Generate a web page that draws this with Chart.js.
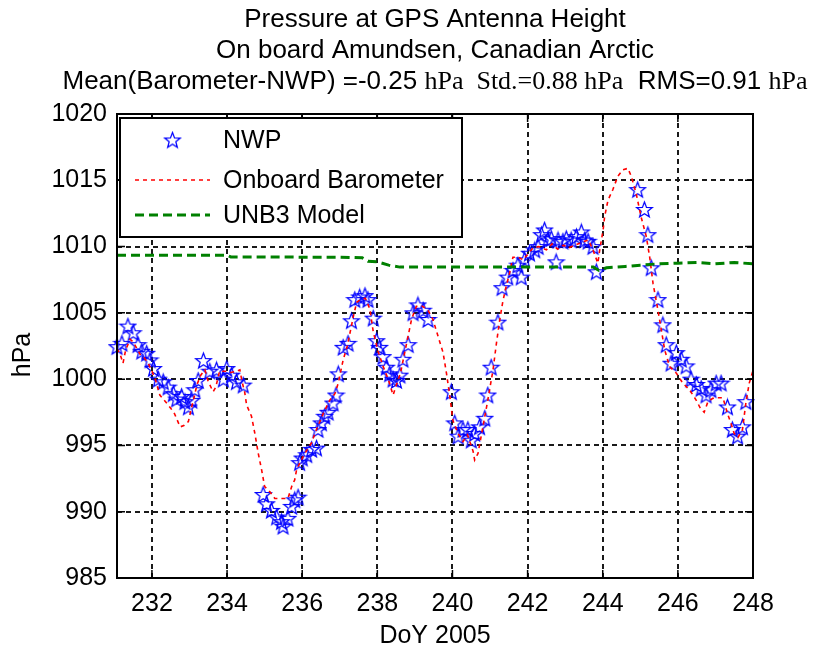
<!DOCTYPE html>
<html>
<head>
<meta charset="utf-8">
<script src="https://cdn.jsdelivr.net/npm/chart.js@4/dist/chart.umd.min.js"></script>
<style>
html,body{margin:0;padding:0;background:#fff;}
#c{display:block;}
</style>
</head>
<body>
<canvas id="c" width="830" height="652"></canvas>
<script>
// ---- Data ----
const titleLines = ["Pressure at GPS Antenna Height", "On board Amundsen, Canadian Arctic"];
const xLabel = "DoY 2005";
const yLabel = "hPa";
const xTicks = [232, 234, 236, 238, 240, 242, 244, 246, 248];
const yTicks = [985, 990, 995, 1000, 1005, 1010, 1015, 1020];
const xMin = 231.07, xMax = 248, yMin = 985, yMax = 1020;

const nwpDay = [231.07,231.2,231.36,231.5,231.63,231.73,231.86,231.95,232.04,232.17,232.3,232.43,232.57,232.66,232.79,232.88,232.97,233.06,233.14,233.23,233.37,233.54,233.72,233.9,233.99,234.12,234.25,234.43,
234.96,235.05,235.18,235.32,235.45,235.49,235.62,235.72,235.8,235.89,235.93,236.0,236.12,236.25,236.38,236.42,236.51,236.6,236.69,236.82,236.9,236.96,237.09,237.22,237.31,237.4,237.53,237.67,237.75,237.89,237.98,238.06,238.15,238.24,238.33,238.42,238.51,238.6,238.68,238.82,238.95,239.08,239.22,239.35,
239.97,240.06,240.15,240.28,240.41,240.5,240.59,240.72,240.86,240.94,241.03,241.21,241.32,241.47,241.61,241.74,241.83,241.92,242.05,242.19,242.28,242.37,242.45,242.54,242.63,242.76,242.81,242.94,243.03,243.16,243.3,243.43,243.52,243.61,243.74,243.83,
244.93,245.11,245.2,245.29,245.47,245.6,245.69,245.82,245.96,246.09,246.22,246.35,246.49,246.62,246.75,246.88,247.02,247.15,247.32,247.45,247.59,247.72,247.81];
const nwpHpa = [1002.45,1002.7,1004.0,1003.5,1002.6,1002.1,1001.95,1001.45,1000.8,1000.0,999.8,999.4,998.9,998.5,998.7,998.3,997.9,998.4,999.2,999.9,1001.4,1000.6,1000.7,1000.0,1000.8,1000.3,999.8,999.55,
991.3,990.6,990.1,989.6,989.25,988.9,989.5,990.4,990.9,991.1,993.7,994.05,994.3,994.7,994.8,996.2,996.7,997.2,997.5,998.2,998.8,1000.4,1002.4,1002.7,1004.4,1006.0,1006.2,1006.3,1006.0,1004.6,1002.9,1002.4,1001.7,1000.9,1000.4,1000.0,999.9,1000.3,1001.5,1002.6,1005.0,1005.6,1005.2,1004.5,
999.05,996.7,995.7,996.2,996.2,995.4,995.9,996.4,997.05,998.8,1000.9,1004.3,1006.9,1007.7,1008.2,1008.6,1007.7,1009.0,1009.5,1009.75,1010.0,1010.9,1011.25,1010.5,1010.6,1008.85,1010.5,1010.4,1010.6,1010.5,1010.75,1011.1,1010.5,1010.4,1010.0,1008.1,
1014.3,1012.8,1010.9,1008.4,1006.0,1004.1,1002.6,1001.2,1002.0,1001.5,1001.0,1000.0,999.6,999.3,998.8,999.2,999.7,999.7,997.9,996.2,995.7,996.4,998.3];

const baroDay = [231.07,231.15,231.23,231.3,231.42,231.5,231.6,231.7,231.8,231.9,232.0,232.1,232.21,232.3,232.39,232.5,232.6,232.66,232.75,232.85,232.97,233.05,233.12,233.2,233.3,233.41,233.5,233.63,233.7,233.8,233.95,234.1,234.25,234.34,234.4,234.47,234.52,234.65,234.74,234.83,234.92,235.0,235.14,235.27,235.45,235.62,235.72,235.8,235.85,235.94,236.07,236.25,236.38,236.56,236.73,236.87,236.96,237.09,237.2,237.36,237.45,237.55,237.68,237.8,237.89,238.02,238.15,238.3,238.42,238.5,238.62,238.75,238.91,239.04,239.2,239.35,239.48,239.62,239.75,239.84,239.93,240.01,240.15,240.28,240.4,240.55,240.59,240.68,240.81,240.94,241.08,241.17,241.26,241.34,241.43,241.52,241.61,241.75,241.88,242.0,242.14,242.3,242.5,242.65,242.8,242.95,243.1,243.25,243.39,243.52,243.62,243.74,243.87,243.92,244.01,244.05,244.14,244.27,244.4,244.54,244.67,244.76,244.89,245.02,245.16,245.25,245.34,245.47,245.56,245.65,245.78,245.96,246.13,246.31,246.49,246.6,246.7,246.8,246.93,247.05,247.2,247.32,247.41,247.5,247.6,247.72,247.81,247.9,247.99];
const baroHpa = [1002.3,1001.9,1001.2,1002.2,1003.0,1002.8,1002.3,1001.8,1001.6,1001.2,1000.6,999.9,998.8,998.5,998.2,997.8,997.4,997.0,996.4,996.5,996.8,997.8,998.6,999.6,1000.3,1000.7,999.8,999.05,999.4,1000.6,1000.6,1000.5,1000.6,1000.7,999.8,999.0,998.05,997.2,995.9,994.4,993.15,991.9,991.5,991.0,991.0,991.0,991.9,992.4,993.15,993.7,994.4,995.2,996.2,997.4,998.4,998.9,999.7,1001.45,1002.5,1004.7,1005.8,1006.0,1006.1,1005.3,1003.6,1002.1,1001.0,999.9,998.8,999.5,1000.5,1002.3,1004.5,1005.5,1005.5,1005.2,1004.5,1003.2,1002.0,1000.45,998.7,996.9,995.9,995.3,995.8,994.55,993.9,994.4,996.4,998.4,1000.7,1002.7,1004.5,1005.85,1007.0,1008.0,1009.2,1009.2,1009.0,1009.4,1009.9,1010.0,1009.75,1010.2,1009.8,1010.1,1009.9,1010.1,1010.25,1010.4,1010.5,1009.75,1008.75,1009.75,1011.25,1012.25,1013.5,1014.3,1015.3,1015.8,1015.9,1015.3,1014.0,1012.25,1010.75,1009.2,1007.2,1005.2,1003.7,1002.2,1000.95,1000.45,999.7,999.2,998.4,997.8,997.5,998.3,998.55,998.6,998.6,997.4,996.7,995.9,995.6,996.2,998.2,999.7,1000.55];

const unbDay = [231.07,232.0,233.0,234.0,234.1,235.0,236.0,237.0,237.6,237.75,238.0,238.3,238.6,239.5,240.5,241.5,242.5,243.5,243.75,243.9,244.1,244.6,245.0,245.5,246.0,246.5,247.0,247.5,248.0];
const unbHpa = [1009.35,1009.35,1009.35,1009.35,1009.22,1009.22,1009.2,1009.2,1009.15,1008.9,1008.85,1008.6,1008.45,1008.45,1008.45,1008.45,1008.45,1008.45,1008.45,1008.2,1008.4,1008.5,1008.6,1008.7,1008.75,1008.8,1008.7,1008.8,1008.7];

const seriesNames = ["NWP", "Onboard Barometer", "UNB3 Model"];
const seriesColors = ["#0000ff", "#ff0000", "#008000"];

// ---- helpers ----
const SANS = "'Liberation Sans', Arial, Helvetica, sans-serif";
const SERIF = "'Liberation Serif', 'Times New Roman', serif";
const zip = (xs, ys) => xs.map((x, i) => ({x: x, y: ys[i]}));

function makeStar(size, color, lw) {
  const c = document.createElement('canvas');
  c.width = size; c.height = size;
  const g = c.getContext('2d');
  const R = size / 2 - lw, r = R * 0.42, cx = size / 2, cy = size / 2 + R * 0.08;
  g.beginPath();
  for (let i = 0; i < 10; i++) {
    const a = -Math.PI / 2 + i * Math.PI / 5;
    const rr = (i % 2) ? r : R;
    g.lineTo(cx + rr * Math.cos(a), cy + rr * Math.sin(a));
  }
  g.closePath();
  g.strokeStyle = color; g.lineWidth = lw; g.lineJoin = 'miter';
  g.stroke();
  return c;
}
const star = makeStar(19, seriesColors[0], 1.25);

const decorPlugin = {
  id: 'decor',
  afterDraw(chart) {
    const ctx = chart.ctx, a = chart.chartArea;
    const xs = chart.scales.x, ys = chart.scales.y;
    ctx.save();
    // box
    ctx.strokeStyle = '#000'; ctx.lineWidth = 2; ctx.setLineDash([]);
    ctx.strokeRect(a.left, a.top, a.right - a.left, a.bottom - a.top);
    // inward ticks
    ctx.lineWidth = 1.5;
    const tl = 8;
    ctx.beginPath();
    xTicks.forEach(v => {
      const px = xs.getPixelForValue(v);
      ctx.moveTo(px, a.bottom); ctx.lineTo(px, a.bottom - tl);
      ctx.moveTo(px, a.top); ctx.lineTo(px, a.top + tl);
    });
    yTicks.forEach(v => {
      const py = ys.getPixelForValue(v);
      ctx.moveTo(a.left, py); ctx.lineTo(a.left + tl, py);
      ctx.moveTo(a.right, py); ctx.lineTo(a.right - tl, py);
    });
    ctx.stroke();

    // title
    ctx.fillStyle = '#000';
    ctx.textBaseline = 'alphabetic';
    ctx.textAlign = 'center';
    ctx.font = '26px ' + SANS;
    const cx = (a.left + a.right) / 2;
    ctx.fillText(titleLines[0], cx, 27);
    ctx.fillText(titleLines[1], cx, 58);
    // third line with mixed fonts
    const segs = [
      ["Mean(Barometer-NWP) =-0.25 ", SANS],
      ["hPa  Std.=0.88 hPa", SERIF],
      ["  RMS=0.91 ", SANS],
      ["hPa", SERIF]
    ];
    let total = 0;
    segs.forEach(s => { ctx.font = '26px ' + s[1]; s.w = ctx.measureText(s[0]).width; total += s.w; });
    let x0 = cx - total / 2;
    ctx.textAlign = 'left';
    segs.forEach(s => { ctx.font = '26px ' + s[1]; ctx.fillText(s[0], x0, 89); x0 += s.w; });

    // axis titles
    ctx.font = '25px ' + SANS;
    ctx.textAlign = 'center';
    ctx.fillText(xLabel, cx, 643);
    ctx.save();
    ctx.translate(30, (a.top + a.bottom) / 2 + 9);
    ctx.rotate(-Math.PI / 2);
    ctx.fillText(yLabel, 0, 0);
    ctx.restore();

    // legend
    const L = {x: 120, y: 118, w: 342, h: 119};
    ctx.fillStyle = '#fff';
    ctx.fillRect(L.x, L.y, L.w, L.h);
    ctx.strokeStyle = '#000'; ctx.lineWidth = 2;
    ctx.strokeRect(L.x, L.y, L.w, L.h);
    const rows = [140, 180, 215];
    const sx0 = 135, sx1 = 210, tx = 223;
    ctx.drawImage(star, (sx0 + sx1) / 2 - star.width / 2, rows[0] - star.height / 2);
    ctx.strokeStyle = seriesColors[1]; ctx.lineWidth = 1.5; ctx.setLineDash([4, 4]);
    ctx.beginPath(); ctx.moveTo(sx0, rows[1]); ctx.lineTo(sx1, rows[1]); ctx.stroke();
    ctx.strokeStyle = seriesColors[2]; ctx.lineWidth = 3; ctx.setLineDash([9, 5]);
    ctx.beginPath(); ctx.moveTo(sx0, rows[2]); ctx.lineTo(sx1, rows[2]); ctx.stroke();
    ctx.setLineDash([]);
    ctx.fillStyle = '#000';
    ctx.font = '25px ' + SANS;
    ctx.textAlign = 'left'; ctx.textBaseline = 'middle';
    seriesNames.forEach((n, i) => ctx.fillText(n, tx, rows[i] + 1));
    ctx.restore();
  }
};

const tickFont = {family: SANS, size: 25};
new Chart(document.getElementById('c'), {
  type: 'scatter',
  data: {
    datasets: [
      {label: seriesNames[2], data: zip(unbDay, unbHpa), showLine: true, borderColor: seriesColors[2],
       borderWidth: 3, borderDash: [9, 5], pointRadius: 0, order: 0, tension: 0},
      {label: seriesNames[1], data: zip(baroDay, baroHpa), showLine: true, borderColor: seriesColors[1],
       borderWidth: 1.6, borderDash: [4, 4], pointRadius: 0, order: 1, tension: 0},
      {label: seriesNames[0], data: zip(nwpDay, nwpHpa), showLine: false, pointStyle: star,
       pointRadius: 8, order: 2, clip: false}
    ]
  },
  options: {
    responsive: false,
    animation: false,
    devicePixelRatio: 1,
    layout: {padding: {left: 0, right: 77, top: 114, bottom: 0}},
    plugins: {legend: {display: false}, title: {display: false}, tooltip: {enabled: false}},
    scales: {
      x: {
        type: 'linear', min: xMin, max: xMax,
        afterBuildTicks: s => { s.ticks = xTicks.map(v => ({value: v})); },
        afterFit: s => { s.height = 74; },
        grid: {color: '#1a1a1a', lineWidth: 2, drawTicks: false},
        border: {display: false, dash: [5, 4]},
        ticks: {font: tickFont, color: '#000', padding: 11, maxRotation: 0, autoSkip: false,
                callback: v => String(v)}
      },
      y: {
        type: 'linear', min: yMin, max: yMax,
        afterBuildTicks: s => { s.ticks = yTicks.map(v => ({value: v})); },
        afterFit: s => { s.width = 117; },
        grid: {color: '#1a1a1a', lineWidth: 2, drawTicks: false},
        border: {display: false, dash: [5, 4]},
        ticks: {font: tickFont, color: '#000', padding: 10, autoSkip: false, callback: v => String(v)}
      }
    }
  },
  plugins: [decorPlugin]
});
</script>
</body>
</html>
